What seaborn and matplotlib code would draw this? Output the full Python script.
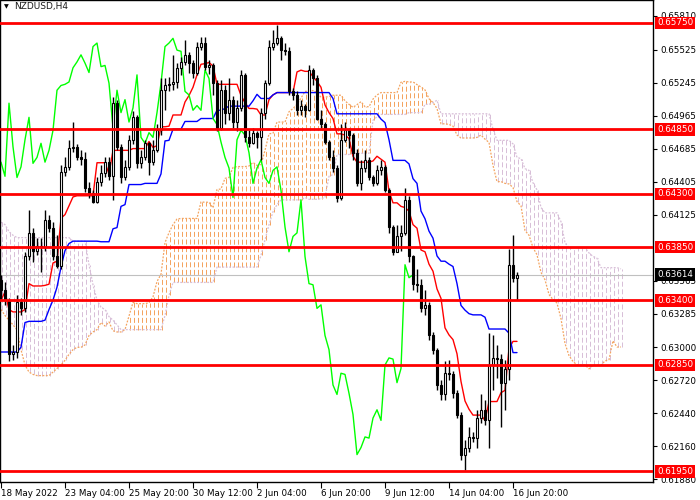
import numpy as np
import pandas as pd
import seaborn as sns
import matplotlib
matplotlib.use("Agg")
import matplotlib.pyplot as plt
import matplotlib.transforms as mtransforms

# ---- data ----
symbol_title = "NZDUSD,H4"

open_first = 0.6357
close = [
    0.6349, 0.6340, 0.6294, 0.6296, 0.6338, 0.6333, 0.6377, 0.6397, 0.6382, 0.6386,
    0.6385, 0.6408, 0.6401, 0.6377, 0.6369, 0.6449, 0.6453, 0.6469, 0.6470, 0.6461,
    0.6460, 0.6435, 0.6431, 0.6423, 0.6440, 0.6448, 0.6457, 0.6445, 0.6507, 0.6470,
    0.6444, 0.6453, 0.6476, 0.6495, 0.6456, 0.6461, 0.6473, 0.6457, 0.6467, 0.6484,
    0.6518, 0.6522, 0.6523, 0.6525, 0.6537, 0.6542, 0.6548, 0.6541, 0.6533, 0.6555,
    0.6558, 0.6538, 0.6539, 0.6524, 0.6486, 0.6518, 0.6499, 0.6510, 0.6491, 0.6503,
    0.6531, 0.6478, 0.6473, 0.6482, 0.6478, 0.6499, 0.6524, 0.6555, 0.6558, 0.6562,
    0.6552, 0.6551, 0.6517, 0.6514, 0.6501, 0.6505, 0.6501, 0.6535, 0.6528, 0.6494,
    0.6489, 0.6474, 0.6461, 0.6452, 0.6427, 0.6476, 0.6484, 0.6480, 0.6465, 0.6439,
    0.6452, 0.6459, 0.6444, 0.6439, 0.6450, 0.6453, 0.6433, 0.6402, 0.6381, 0.6394,
    0.6397, 0.6425, 0.6377, 0.6354, 0.6353, 0.6333, 0.6336, 0.6310, 0.6298, 0.6268,
    0.6260, 0.6278, 0.6277, 0.6261, 0.6243, 0.6209, 0.6215, 0.6224, 0.6223, 0.6240,
    0.6247, 0.6238, 0.6285, 0.6291, 0.6290, 0.6270, 0.6282, 0.6370, 0.6359, 0.63614,
]
high = [
    0.6361, 0.6355, 0.6342, 0.6302, 0.6344, 0.6342, 0.6381, 0.6416, 0.6401, 0.6393,
    0.6393, 0.6416, 0.6412, 0.6406, 0.6395, 0.6455, 0.6461, 0.6476, 0.6491, 0.6472,
    0.6467, 0.6466, 0.6440, 0.6433, 0.6444, 0.6455, 0.6461, 0.6461, 0.6512, 0.6510,
    0.6472, 0.6459, 0.6480, 0.6500, 0.6497, 0.6467, 0.6476, 0.6474, 0.6476, 0.6489,
    0.6528, 0.6528, 0.6529, 0.6548, 0.6541, 0.6546, 0.6561, 0.6550, 0.6544, 0.6559,
    0.6563, 0.6563, 0.6544, 0.6541, 0.6527, 0.6527, 0.6522, 0.6528, 0.6513, 0.6510,
    0.6535, 0.6533, 0.6484, 0.6486, 0.6483, 0.6503, 0.6527, 0.6561, 0.6569, 0.6573,
    0.6564, 0.6558, 0.6555, 0.6520, 0.6517, 0.6510, 0.6506, 0.6539, 0.6537, 0.6531,
    0.6501, 0.6491, 0.6476, 0.6467, 0.6455, 0.6489, 0.6491, 0.6486, 0.6482, 0.6468,
    0.6459, 0.6467, 0.6461, 0.6446, 0.6455, 0.6459, 0.6455, 0.6435, 0.6404, 0.6404,
    0.6404, 0.6435, 0.6428, 0.6378, 0.6366, 0.6358, 0.6349, 0.6338, 0.6313, 0.6299,
    0.6272, 0.6288, 0.6289, 0.6280, 0.6264, 0.6245, 0.6221, 0.6232, 0.6228, 0.6247,
    0.6260, 0.6255, 0.6312, 0.6310, 0.6302, 0.6294, 0.6289, 0.6383, 0.6395, 0.6364,
]
low = [
    0.6340, 0.6336, 0.6288, 0.6289, 0.6291, 0.6327, 0.6330, 0.6374, 0.6372, 0.6378,
    0.6364, 0.6382, 0.6398, 0.6374, 0.6367, 0.6366, 0.6445, 0.6450, 0.6466, 0.6459,
    0.6455, 0.6432, 0.6427, 0.6422, 0.6422, 0.6437, 0.6444, 0.6442, 0.6425, 0.6467,
    0.6439, 0.6442, 0.6450, 0.6472, 0.6452, 0.6452, 0.6459, 0.6446, 0.6455, 0.6466,
    0.6480, 0.6501, 0.6517, 0.6518, 0.6520, 0.6531, 0.6539, 0.6533, 0.6528, 0.6531,
    0.6552, 0.6535, 0.6532, 0.6514, 0.6483, 0.6484, 0.6489, 0.6493, 0.6486, 0.6483,
    0.6500, 0.6474, 0.6470, 0.6472, 0.6469, 0.6459, 0.6494, 0.6522, 0.6552, 0.6556,
    0.6544, 0.6548, 0.6514, 0.6510, 0.6497, 0.6497, 0.6495, 0.6500, 0.6522, 0.6493,
    0.6486, 0.6472, 0.6459, 0.6449, 0.6423, 0.6425, 0.6474, 0.6469, 0.6459, 0.6437,
    0.6433, 0.6449, 0.6442, 0.6437, 0.6438, 0.6446, 0.6432, 0.6397, 0.6378, 0.6381,
    0.6382, 0.6395, 0.6372, 0.6349, 0.6347, 0.6330, 0.6327, 0.6306, 0.6294, 0.6264,
    0.6255, 0.6255, 0.6272, 0.6257, 0.6240, 0.6204, 0.6196, 0.6211, 0.6220, 0.6215,
    0.6236, 0.6234, 0.6215, 0.6264, 0.6274, 0.6232, 0.6247, 0.6272, 0.6355, 0.6340,
]

# indicator values on the first bars (their look-back starts before the visible window)
tenkan_early = [0.6340, 0.6347, 0.6332, 0.6330, 0.6330, 0.6330, 0.6332, 0.6354]
kijun_early = [0.6296, 0.6296, 0.6296, 0.6296, 0.6296, 0.6300, 0.6321, 0.6322, 0.6322,
               0.6322, 0.6322, 0.6323, 0.6332, 0.6340, 0.6351, 0.6368, 0.6382, 0.6388,
               0.6390, 0.6390, 0.6390, 0.6390, 0.6390, 0.6390, 0.6390]
span_a_early = [0.6332, 0.6327, 0.6323, 0.6319, 0.6315, 0.6298, 0.6285, 0.6279, 0.6277,
                0.6276, 0.6276, 0.6276, 0.6276, 0.6279, 0.6282, 0.6285, 0.6289, 0.6294,
                0.6298, 0.6300, 0.6300, 0.6302, 0.6310, 0.6313, 0.6315, 0.6321]
span_b_early = ([0.6406, 0.6404, 0.6398, 0.6395] + [0.6393] * 14 + [0.6390] * 4 +
                [0.6370, 0.6353, 0.6340, 0.6334, 0.6332, 0.6326, 0.6323, 0.6319] +
                [0.6315] * 11 + [0.6327, 0.6344] + [0.6355] * 11 + [0.6368] * 11 +
                [0.6378, 0.6391, 0.6404, 0.6415, 0.6421] + [0.6425] * 6 + [0.6427])

levels = [0.6575, 0.6485, 0.6430, 0.6385, 0.6340, 0.6285, 0.6195]
last_price = 0.63614
price_ticks = [0.65810, 0.65525, 0.65245, 0.64965, 0.64685, 0.64405, 0.64125,
               0.63565, 0.63285, 0.63000, 0.62720, 0.62440, 0.62160, 0.61880]
date_labels = ["18 May 2022", "23 May 04:00", "25 May 20:00", "30 May 12:00", "2 Jun 04:00",
               "6 Jun 20:00", "9 Jun 12:00", "14 Jun 04:00", "16 Jun 20:00"]
date_bars = [0, 16, 32, 48, 64, 80, 96, 112, 128]

# ---- ichimoku (9, 26, 52) ----
n = len(close)
opens = [open_first] + close[:-1]
tenkan = []
kijun = []
for i in range(n):
    if i < 8:
        tenkan.append(tenkan_early[i])
    else:
        tenkan.append((max(high[i - 8:i + 1]) + min(low[i - 8:i + 1])) / 2)
    if i < 25:
        kijun.append(kijun_early[i])
    else:
        kijun.append((max(high[i - 25:i + 1]) + min(low[i - 25:i + 1])) / 2)

span_a = []
span_b = []
for j in range(n + 26):
    if j < 26:
        span_a.append(span_a_early[j])
    else:
        span_a.append((tenkan[j - 26] + kijun[j - 26]) / 2)
    if j < 77:
        span_b.append(span_b_early[j])
    else:
        span_b.append((max(high[j - 77:j - 25]) + min(low[j - 77:j - 25])) / 2)

df = pd.DataFrame({"bar": np.arange(n), "close": close, "open": opens,
                   "high": high, "low": low, "tenkan": tenkan, "kijun": kijun})
cloud = pd.DataFrame({"bar": np.arange(n + 26), "a": span_a, "b": span_b})

# ---- plot ----
sns.set_style("white")
plt.rcParams['font.family'] = ['DejaVu Sans']

fig = plt.figure(figsize=(7, 5), dpi=100)
ax = fig.add_axes([0, 18 / 500, 653 / 700, 482 / 500])

sandy = "#F4A460"
thistle = "#D8BFD8"
hatch = (0, (5.0, 2.6))
# nudge hatch columns onto pixel centres so the 1px dashes stay crisp
up = cloud[cloud.a >= cloud.b]
dn = cloud[cloud.a < cloud.b]
ax.vlines(up.bar + 0.125, up.b, up.a, colors=sandy, linestyles=hatch, lw=0.72, zorder=1)
ax.vlines(dn.bar + 0.125, dn.a, dn.b, colors=thistle, linestyles=hatch, lw=0.72, zorder=1)
ax.plot(cloud.bar, cloud.a, color=sandy, lw=0.9, ls=(0, (1.5, 1.2)), zorder=1)
ax.plot(cloud.bar, cloud.b, color=thistle, lw=0.9, ls=(0, (1.5, 1.2)), zorder=1)

sns.lineplot(data=df, x="bar", y="tenkan", color="#FF0000", lw=1, ax=ax, zorder=2)
sns.lineplot(data=df, x="bar", y="kijun", color="#0000FF", lw=1, ax=ax, zorder=2)
chikou = df[df.bar >= 26]
sns.lineplot(x=chikou.bar - 26, y=chikou.close, color="#00FF00", lw=1, ax=ax, zorder=2)

# candles
ax.vlines(df.bar, df.low, df.high, colors="black", lw=1, zorder=3)
bull = df[df.close >= df.open]
bear = df[df.close < df.open]
ax.bar(bull.bar, bull.close - bull.open, bottom=bull.open, width=0.7,
       color="white", edgecolor="black", lw=0.8, zorder=4)
ax.bar(bear.bar, bear.open - bear.close, bottom=bear.close, width=0.7,
       color="black", edgecolor="black", lw=0.8, zorder=4)

# horizontal levels
for lv in levels:
    ax.axhline(lv, color="#FF0000", lw=2, zorder=5)
ax.axhline(last_price, color="#C0C0C0", lw=0.8, zorder=1.5)

ax.set_xlim(-0.25, -0.25 + 653 / 4)
ax.set_ylim(0.65945 - 482 * 0.0000848, 0.65945)
ax.set_xlabel("")
ax.set_ylabel("")

ax.yaxis.tick_right()
ax.set_yticks(price_ticks, [f"{v:.5f}" for v in price_ticks])
ax.set_xticks(date_bars, date_labels)
for lbl in ax.get_xticklabels():
    lbl.set_ha("left")
ax.tick_params(axis="y", which="both", right=True, left=False, direction="out",
               length=3, width=0.8, pad=2, labelsize=6.3, colors="black")
ax.tick_params(axis="x", which="both", bottom=True, direction="out",
               length=4, width=0.8, pad=1, labelsize=6.3, colors="black")
for s in ax.spines.values():
    s.set_color("black")
    s.set_linewidth(1)

trans = mtransforms.blended_transform_factory(ax.transAxes, ax.transData)
for lv in levels:
    ax.text(1.0065, lv, f"{lv:.5f}", transform=trans, color="white", fontsize=6.3,
            va="center", ha="left", clip_on=False, zorder=10,
            bbox=dict(boxstyle="square,pad=0.22", fc="#FF0000", ec="none"))
ax.text(1.0065, last_price, f"{last_price:.5f}", transform=trans, color="white",
        fontsize=6.3, va="center", ha="left", clip_on=False, zorder=10,
        bbox=dict(boxstyle="square,pad=0.22", fc="black", ec="none"))

fig.text(6 / 700, 1 - 7 / 500, "▼", fontsize=4.5, ha="center", va="center", color="black")
fig.text(14 / 700, 1 - 7 / 500, symbol_title, fontsize=6.5, ha="left", va="center",
         color="#1a1a1a")

fig.savefig("out.png", dpi=100)
